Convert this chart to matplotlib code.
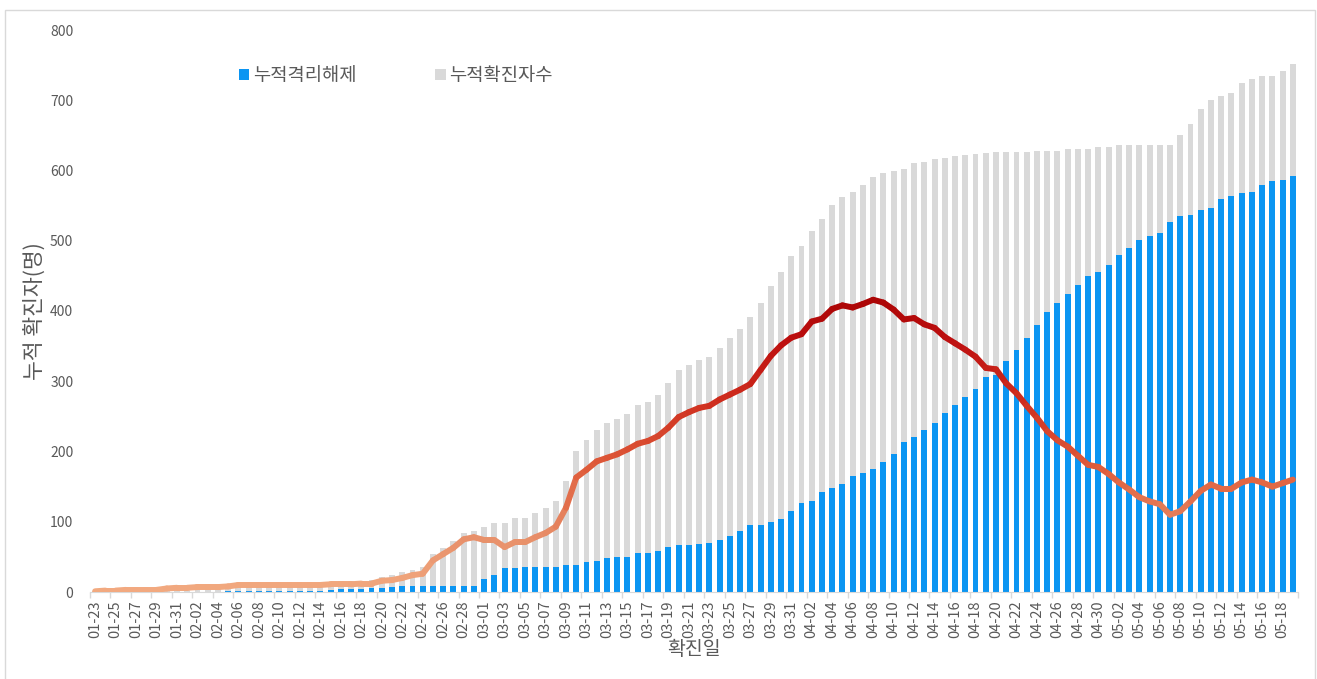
import numpy as np
import pandas as pd
import matplotlib
matplotlib.use("Agg")
import matplotlib.pyplot as plt
from matplotlib.collections import LineCollection
from matplotlib.colors import LinearSegmentedColormap
from matplotlib.patches import Rectangle

plt.rcParams['font.family'] = ['Noto Sans CJK KR', 'DejaVu Sans']

dates = pd.date_range("2020-01-23", "2020-05-19", freq="D").strftime("%m-%d").tolist()

confirmed = [
    1, 2, 2, 3, 3, 3, 3, 5, 6, 6, 7, 7, 7, 9, 11, 12, 12, 12, 12, 12,
    12, 12, 12, 14, 15, 15, 16, 17, 22, 24, 28, 32, 35, 54, 63, 72, 84, 87, 93, 98,
    98, 105, 106, 113, 119, 129, 158, 201, 216, 230, 240, 246, 253, 266, 270, 281, 298, 316, 323, 330,
    335, 348, 361, 375, 391, 411, 435, 455, 478, 493, 514, 531, 551, 562, 570, 579, 591, 597, 599, 602,
    610, 612, 616, 618, 620, 622, 624, 625, 626, 626, 627, 627, 628, 628, 628, 631, 631, 631, 633, 634,
    636, 636, 636, 636, 636, 636, 650, 666, 688, 700, 706, 711, 724, 730, 735, 735, 742, 752,
]
released = [
    0, 0, 0, 0, 0, 0, 0, 0, 0, 0, 0, 0, 0, 1, 1, 2, 2, 2, 2, 2,
    2, 2, 2, 3, 4, 4, 4, 5, 6, 7, 8, 8, 9, 9, 9, 9, 9, 9, 19, 24,
    34, 34, 35, 35, 35, 36, 38, 38, 42, 44, 49, 50, 50, 55, 55, 59, 64, 67, 67, 68,
    70, 74, 80, 87, 95, 95, 99, 104, 116, 126, 129, 142, 148, 154, 165, 169, 175, 185, 197, 214,
    220, 231, 240, 255, 266, 277, 289, 306, 309, 329, 344, 362, 380, 399, 412, 424, 437, 450, 455, 466,
    480, 490, 501, 507, 511, 526, 535, 537, 544, 547, 559, 564, 568, 570, 579, 585, 587, 592,
]

legend_labels = ["누적격리해제", "누적확진자수"]
y_ticks = [0, 100, 200, 300, 400, 500, 600, 700, 800]

confirmed = np.array(confirmed)
released = np.array(released)
active = confirmed - released
x = np.arange(len(dates))

fig = plt.figure(figsize=(13.17, 6.79), dpi=100)
ax = fig.add_axes([90 / 1317, 87 / 679, 1208 / 1317, 562 / 679])

gray_c = "#D9D9D9"
blue_c = "#0B95F2"
b_gray = ax.bar(x, confirmed, width=0.58, color=gray_c, zorder=1, label=legend_labels[1])
b_blue = ax.bar(x, released, width=0.58, color=blue_c, zorder=2, label=legend_labels[0])

cmap = LinearSegmentedColormap.from_list(
    "act", [(0.0, "#F2AA80"), (0.18, "#E8906A"), (0.4, "#E0603E"),
            (0.65, "#CF2E1E"), (0.85, "#BE1010"), (1.0, "#AA0505")])
pts = np.column_stack([x, active]).reshape(-1, 1, 2)
segs = np.concatenate([pts[:-1], pts[1:]], axis=1)
vals = (active[:-1] + active[1:]) / 2
lc = LineCollection(segs, cmap=cmap, norm=plt.Normalize(0, 420),
                    linewidth=4.3, capstyle='round', joinstyle='round', zorder=3)
lc.set_array(vals)
ax.add_collection(lc)

ax.set_xlim(-0.5, len(dates) - 0.5)
ax.set_ylim(0, 800)
ax.set_yticks(y_ticks)
ax.set_yticklabels([str(v) for v in y_ticks], fontsize=10, color="#595959")

ax.set_xticks(x[::2])
ax.set_xticklabels(dates[::2], rotation=90, fontsize=10.5, color="#595959")
ax.set_xticks(np.arange(-0.5, len(dates), 2), minor=True)
ax.tick_params(axis='x', which='major', length=0, pad=6)
ax.tick_params(axis='x', which='minor', length=4, color="#D9D9D9", width=1)
ax.tick_params(axis='y', length=0, pad=12)

for s in ['top', 'right', 'left']:
    ax.spines[s].set_visible(False)
ax.spines['bottom'].set_color("#D9D9D9")

ax.set_ylabel("누적 확진자(명)", fontsize=15.5, color="#595959", labelpad=3)
ax.set_xlabel("확진일", fontsize=14, color="#595959", labelpad=1)

leg = fig.legend(handles=[b_blue, b_gray], labels=legend_labels, loc='upper left',
                 bbox_to_anchor=(222 / 1317, 1 - 48 / 679), ncol=2, frameon=False,
                 fontsize=13.5, handlelength=0.55, handleheight=0.55, handletextpad=0.2,
                 columnspacing=4.2, labelcolor="#595959")

fig.patches.append(Rectangle((5 / 1317, -0.01), 1310 / 1317, 1 - 10 / 679 + 0.01,
                             transform=fig.transFigure, fill=False,
                             edgecolor="#D9D9D9", linewidth=1))

fig.savefig("out.png", dpi=100)
